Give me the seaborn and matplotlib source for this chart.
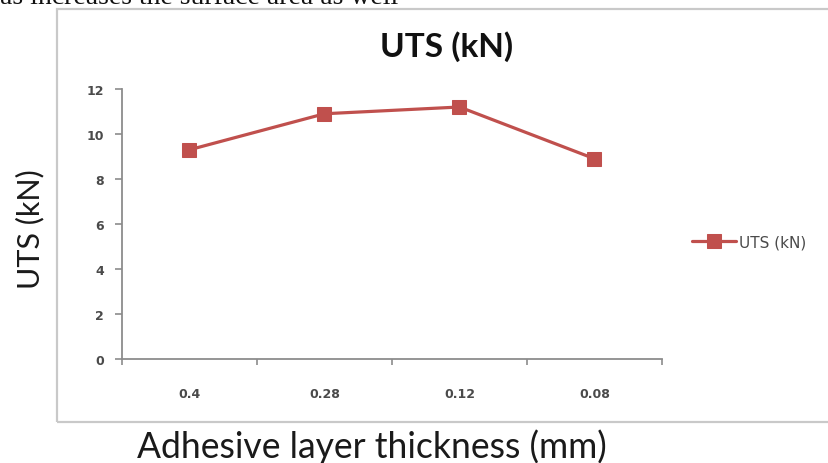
import matplotlib
matplotlib.use("Agg")
import matplotlib.pyplot as plt
from matplotlib.patches import Rectangle
import seaborn as sns

# Data
thickness = ["0.4", "0.28", "0.12", "0.08"]
uts_kn = [9.3, 10.9, 11.2, 8.9]
y_ticks = [0, 2, 4, 6, 8, 10, 12]
series_name = "UTS (kN)"

sns.set_theme(style="white")
plt.rcParams["font.family"] = ["Lato", "DejaVu Sans"]

W, H = 829, 464
fig = plt.figure(figsize=(W / 100, H / 100), dpi=100)
fig.patch.set_facecolor("white")

# Plot area in pixel terms
left, right, top, bottom = 122, 662, 90, 360
ax = fig.add_axes([left / W, 1 - bottom / H, (right - left) / W, (bottom - top) / H])
ax.set_facecolor("none")

red = "#C0504D"
sns.lineplot(x=thickness, y=uts_kn, ax=ax, sort=False, color=red, linewidth=2.3,
             marker="s", markersize=9.5, markeredgecolor=red, label=series_name)

# Axis limits and ticks
ax.set_ylim(0, 12)
ax.set_xlim(-0.5, 3.5)
ax.set_yticks(y_ticks, labels=[str(v) for v in y_ticks])
ax.set_xticks([-0.5, 0.5, 1.5, 2.5, 3.5], labels=[""] * 5)
ax.set_xticks(range(len(thickness)), labels=thickness, minor=True)

axis_grey = "#8c8c8c"
label_grey = "#4a4a4a"
for side in ("top", "right"):
    ax.spines[side].set_visible(False)
for side in ("left", "bottom"):
    ax.spines[side].set_color(axis_grey)
    ax.spines[side].set_linewidth(1.3)

ax.tick_params(axis="y", which="major", direction="out", length=5, width=1.2,
               color=axis_grey, labelcolor=label_grey, labelsize=9, pad=8, left=True)
ax.tick_params(axis="x", which="major", direction="out", length=4, width=1.2,
               color=axis_grey, bottom=True)
ax.tick_params(axis="x", which="minor", length=0, labelcolor=label_grey,
               labelsize=9, pad=20)
for lab in ax.get_yticklabels() + ax.get_xticklabels(minor=True):
    lab.set_family(["DejaVu Sans"])
    lab.set_fontweight("bold")

ax.set_xlabel("")
ax.set_ylabel("")
ax.grid(False)

# Title above the plot area
fig.text(447 / W, 1 - 47 / H, "UTS (kN)", ha="center", va="center",
         fontsize=24, fontweight="bold", color="#111111")

# Legend to the right of the plot area
leg = ax.legend(loc="center left", bbox_to_anchor=(692 / W, 1 - 243 / H),
                bbox_transform=fig.transFigure, frameon=False, fontsize=11,
                handlelength=2.9, handletextpad=0.2, borderpad=0, borderaxespad=0)
for t in leg.get_texts():
    t.set_color(label_grey)
    t.set_family(["DejaVu Sans"])

# Chart frame
fig.patches.append(Rectangle((57 / W, 1 - 423 / H), 1.0, (423 - 10) / H,
                             transform=fig.transFigure, fill=False,
                             edgecolor="#c9c9c9", linewidth=1.6, clip_on=False))

# Axis titles set outside the frame
fig.text(137 / W, 1 - 447 / H, "Adhesive layer thickness (mm)", ha="left", va="center",
         fontsize=25.6, color="#1a1a1a")
fig.text(30 / W, 1 - 229 / H, "UTS (kN)", ha="center", va="center", rotation=90,
         fontsize=22, color="#1a1a1a")

# Last line of the preceding paragraph, partly cut by the top edge
fig.text(0, 1 - 4 / H, "as increases the surface area as well", ha="left", va="baseline",
         fontsize=20, color="#111111", family=["Liberation Serif"])

fig.savefig("out.png", dpi=100)
